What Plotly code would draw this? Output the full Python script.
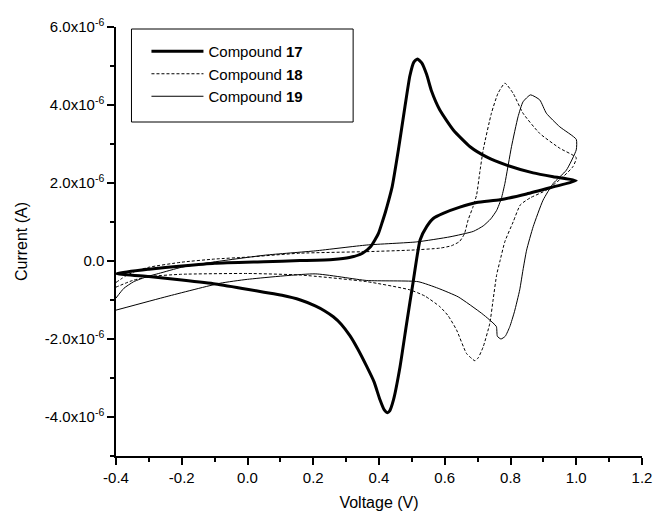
import plotly.graph_objects as go

# ---- data ----
# Compound 17: forward scan then reverse scan
c17_x = [-0.4, -0.3, -0.2, -0.1, 0.05, 0.16, 0.26, 0.31, 0.35, 0.375, 0.398, 0.41, 0.42, 0.43, 0.44, 0.459,
         0.479, 0.494, 0.506, 0.517, 0.53, 0.545, 0.56, 0.585, 0.626, 0.677, 0.727, 0.788, 0.869, 0.93, 1.0,
         0.93, 0.849, 0.768, 0.697, 0.646, 0.595, 0.565, 0.545, 0.525, 0.504, 0.484, 0.464, 0.444, 0.432,
         0.425, 0.416, 0.403, 0.385, 0.363, 0.335, 0.312, 0.285, 0.261, 0.235, 0.206, 0.161, 0.105, 0.05,
         0.003, -0.098, -0.2, -0.3, -0.4]
c17_y = [-0.32, -0.21, -0.13, -0.06, -0.02, 0.01, 0.04, 0.09, 0.2, 0.37, 0.7, 1.0, 1.27, 1.57, 1.9, 2.85,
         3.96, 4.75, 5.1, 5.18, 5.08, 4.78, 4.35, 3.87, 3.36, 2.93, 2.67, 2.46, 2.26, 2.16, 2.06,
         1.9, 1.72, 1.57, 1.5, 1.38, 1.22, 1.09, 0.88, 0.54, -0.53, -1.6, -2.71, -3.56, -3.85,
         -3.89, -3.82, -3.56, -3.1, -2.71, -2.25, -1.92, -1.62, -1.43, -1.28, -1.15, -1.0, -0.88, -0.8,
         -0.73, -0.59, -0.49, -0.40, -0.32]

# Compound 18
c18_x = [-0.4, -0.37, -0.34, -0.3, -0.2, -0.1, 0.0, 0.16, 0.363, 0.5, 0.585, 0.62, 0.645, 0.66, 0.671,
         0.686, 0.697, 0.707, 0.717, 0.742, 0.762, 0.783, 0.808, 0.838, 0.889, 0.95, 1.0,
         0.99, 0.96, 0.91, 0.86, 0.83, 0.808, 0.783, 0.768, 0.758, 0.747, 0.737, 0.717, 0.702, 0.692,
         0.682, 0.666, 0.636, 0.61, 0.585, 0.54, 0.494, 0.363, 0.161, 0.0, -0.2, -0.3, -0.35, -0.4]
c18_y = [-0.55, -0.38, -0.26, -0.16, -0.03, 0.05, 0.1, 0.2, 0.24, 0.28, 0.33, 0.39, 0.5, 0.7, 1.05,
         1.39, 1.7, 2.3, 2.85, 3.79, 4.3, 4.56, 4.3, 3.79, 3.27, 2.89, 2.65,
         2.42, 2.16, 1.82, 1.62, 1.44, 1.0, 0.5, 0.0, -0.35, -1.0, -1.6, -2.2, -2.48, -2.56,
         -2.5, -2.37, -1.77, -1.4, -1.17, -0.9, -0.74, -0.53, -0.36, -0.32, -0.34, -0.40, -0.5, -0.67]

# Compound 19
c19_x = [-0.4, -0.376, -0.346, -0.305, -0.27, -0.2, -0.098, 0.054, 0.206, 0.363, 0.515, 0.616, 0.687,
         0.717, 0.74, 0.758, 0.772, 0.783, 0.803, 0.823, 0.838, 0.861, 0.889, 0.909, 0.95, 1.0,
         1.0, 0.97, 0.93, 0.899, 0.869, 0.849, 0.838, 0.828, 0.812, 0.798, 0.784, 0.771, 0.76, 0.757,
         0.735, 0.712, 0.641, 0.58, 0.519, 0.363, 0.206, 0.0, -0.083, -0.245, -0.4]
c19_y = [-0.95, -0.70, -0.53, -0.40, -0.32, -0.16, -0.02, 0.15, 0.26, 0.41, 0.49, 0.62, 0.76,
         0.9, 1.08, 1.3, 1.6, 1.99, 2.93, 3.7, 4.08, 4.26, 4.13, 3.79, 3.44, 3.12,
         2.85, 2.33, 1.99, 1.56, 0.88, 0.28, -0.23, -0.74, -1.3, -1.68, -1.93, -2.0, -1.93, -1.68,
         -1.5, -1.34, -0.92, -0.7, -0.53, -0.5, -0.33, -0.47, -0.57, -0.91, -1.26]

legend_names = ["Compound <b>17</b>", "Compound <b>18</b>", "Compound <b>19</b>"]

x_ticks = [-0.4, -0.2, 0.0, 0.2, 0.4, 0.6, 0.8, 1.0, 1.2]
x_ticktext = ["-0.4", "-0.2", "0.0", "0.2", "0.4", "0.6", "0.8", "1.0", "1.2"]
y_ticks = [-4e-6, -2e-6, 0.0, 2e-6, 4e-6, 6e-6]
y_ticktext = ["-4.0x10<sup>-6</sup>", "-2.0x10<sup>-6</sup>", "0.0",
              "2.0x10<sup>-6</sup>", "4.0x10<sup>-6</sup>", "6.0x10<sup>-6</sup>"]
y_minor = [-5e-6, -3e-6, -1e-6, 1e-6, 3e-6, 5e-6]

SCALE = 1e-6
FONT = "Liberation Sans, Arial, Helvetica, sans-serif"

fig = go.Figure()
fig.add_trace(go.Scatter(x=c17_x, y=[v * SCALE for v in c17_y], mode="lines", name=legend_names[0],
                         line=dict(color="black", width=3, shape="spline", smoothing=0.5)))
fig.add_trace(go.Scatter(x=c18_x, y=[v * SCALE for v in c18_y], mode="lines", name=legend_names[1],
                         line=dict(color="black", width=1, dash="3px,2px", shape="spline", smoothing=0.5)))
fig.add_trace(go.Scatter(x=c19_x, y=[v * SCALE for v in c19_y], mode="lines", name=legend_names[2],
                         line=dict(color="black", width=1, shape="spline", smoothing=0.5)))

axis_common = dict(showgrid=False, zeroline=False, showline=True, linecolor="black", linewidth=1.5,
                   ticks="outside", ticklen=7, tickwidth=1.5, tickcolor="black", mirror=False,
                   automargin=False,
                   tickfont=dict(family=FONT, size=15, color="black"))

fig.update_xaxes(range=[-0.4, 1.2], tickmode="array", tickvals=x_ticks, ticktext=x_ticktext,
                 minor=dict(tickmode="linear", tick0=-0.4, dtick=0.1, ticklen=4, tickwidth=1.5,
                            tickcolor="black", ticks="outside", showgrid=False),
                 title=dict(text="Voltage (V)", font=dict(family=FONT, size=16, color="black"), standoff=12),
                 **axis_common)
fig.update_yaxes(range=[-5e-6, 6e-6], tickmode="array", tickvals=y_ticks, ticktext=y_ticktext,
                 minor=dict(tickmode="array", tickvals=y_minor, ticklen=4, tickwidth=1.5,
                            tickcolor="black", ticks="outside", showgrid=False),
                 title=dict(text="Current (A)", font=dict(family=FONT, size=16, color="black"), standoff=13),
                 **axis_common)

# legend frame
fig.add_shape(type="rect", xref="paper", yref="paper",
              x0=(131 - 115.5) / 526.8, x1=(353 - 115.5) / 526.8,
              y0=(456 - 122) / 429.0, y1=(456 - 29) / 429.0,
              line=dict(color="black", width=1), fillcolor="white", layer="below")

fig.update_layout(
    width=654, height=515,
    margin=dict(l=115.5, r=11.7, t=27, b=59, autoexpand=False),
    paper_bgcolor="white", plot_bgcolor="rgba(0,0,0,0)",
    font=dict(family=FONT, color="black"),
    showlegend=True,
    hovermode=False,
    legend=dict(x=(146 - 115.5) / 526.8, y=(456 - 35) / 429.0, xanchor="left", yanchor="top",
                bgcolor="rgba(0,0,0,0)", borderwidth=0, itemwidth=52, tracegroupgap=0,
                font=dict(family=FONT, size=15, color="black")),
)

fig.write_html("out.html", config={"displayModeBar": False},
               post_script="document.body.style.margin='0';")
